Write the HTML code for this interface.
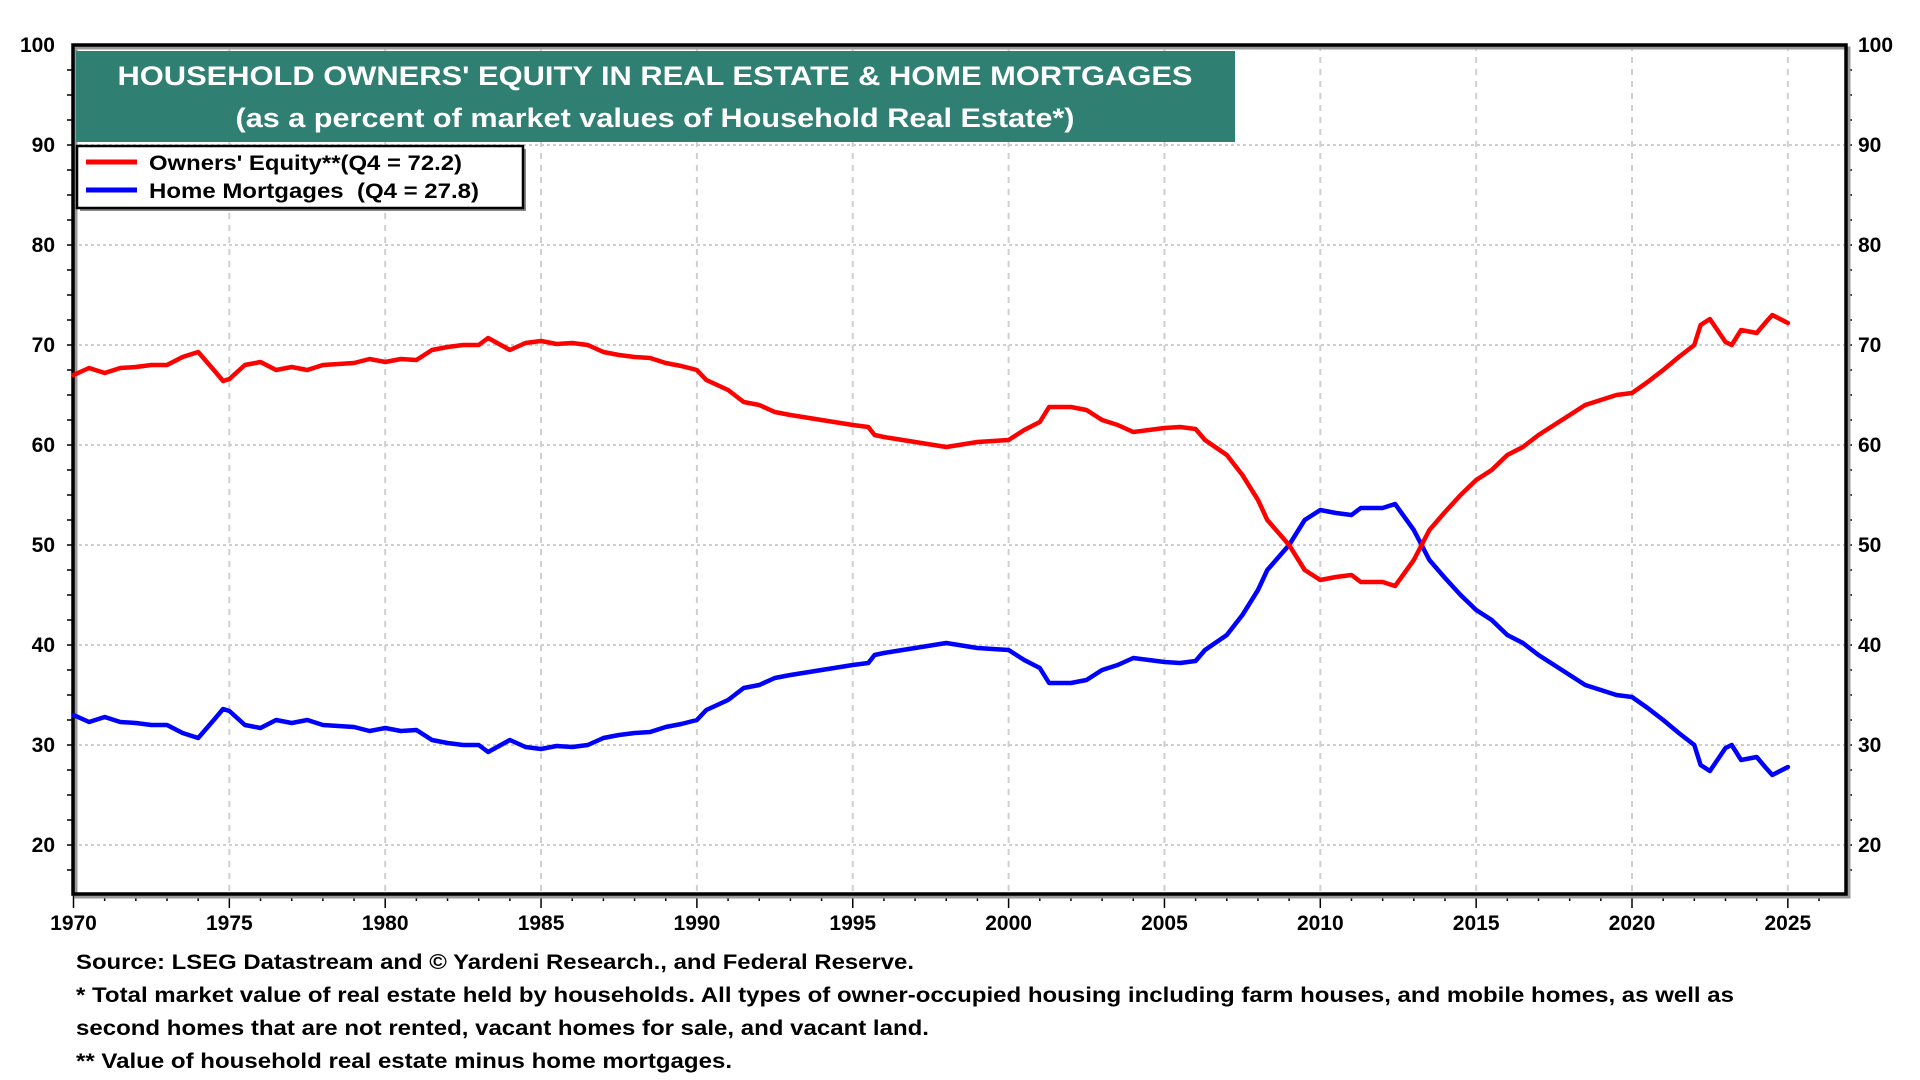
<!DOCTYPE html>
<html><head><meta charset="utf-8"><style>
html,body{margin:0;padding:0;background:#fff;}
svg{display:block;font-family:"Liberation Sans",Arial,sans-serif;font-weight:bold;}
</style></head><body>
<svg id="chart" width="1920" height="1080" viewBox="0 0 1920 1080">
<g id="grid"></g>
<g id="axes"></g>
<g id="series"></g>
<rect x="76" y="51" width="1159" height="91" fill="#2f7f72"/>
<text x="655" y="85" fill="#fff" font-size="27" text-anchor="middle" textLength="1075" lengthAdjust="spacingAndGlyphs">HOUSEHOLD OWNERS' EQUITY IN REAL ESTATE &amp; HOME MORTGAGES</text>
<text x="655" y="127" fill="#fff" font-size="27" text-anchor="middle" textLength="839" lengthAdjust="spacingAndGlyphs">(as a percent of market values of Household Real Estate*)</text>
<g>
<rect x="80" y="149" width="446" height="62" fill="#888"/>
<rect x="77" y="146" width="446" height="62" fill="#fff" stroke="#000" stroke-width="2.5"/>
<line x1="86" y1="162" x2="137" y2="162" stroke="#ff0000" stroke-width="5"/>
<text x="149" y="170" font-size="21" textLength="313" lengthAdjust="spacingAndGlyphs">Owners' Equity**(Q4 = 72.2)</text>
<line x1="86" y1="190" x2="137" y2="190" stroke="#0000ff" stroke-width="5"/>
<text x="149" y="198" font-size="21" textLength="330" lengthAdjust="spacingAndGlyphs" xml:space="preserve">Home Mortgages  (Q4 = 27.8)</text>
</g>
<g font-size="21">
<text x="76" y="969" textLength="838" lengthAdjust="spacingAndGlyphs">Source: LSEG Datastream and © Yardeni Research., and Federal Reserve.</text>
<text x="76" y="1002" textLength="1658" lengthAdjust="spacingAndGlyphs">* Total market value of real estate held by households. All types of owner-occupied housing including farm houses, and mobile homes, as well as</text>
<text x="76" y="1035" textLength="853" lengthAdjust="spacingAndGlyphs">second homes that are not rented, vacant homes for sale, and vacant land.</text>
<text x="76" y="1068" textLength="656" lengthAdjust="spacingAndGlyphs">** Value of household real estate minus home mortgages.</text>
</g>
</svg>
<script>
const years = [1970,1970.5,1971,1971.5,1972,1972.5,1973,1973.5,1974,1974.5,1974.8,1975,1975.5,1976,1976.5,1977,1977.5,1978,1979,1979.5,1980,1980.5,1981,1981.5,1982,1982.5,1983,1983.3,1984,1984.5,1985,1985.5,1986,1986.5,1987,1987.5,1988,1988.5,1989,1989.5,1990,1990.3,1991,1991.5,1992,1992.5,1993,1994,1995,1995.5,1995.7,1996,1997,1998,1999,2000,2000.5,2001,2001.3,2002,2002.5,2003,2003.5,2004,2004.5,2005,2005.5,2006,2006.3,2007,2007.5,2008,2008.3,2009,2009.5,2010,2010.5,2011,2011.3,2012,2012.4,2013,2013.5,2014,2014.5,2015,2015.5,2016,2016.5,2017,2017.5,2018,2018.5,2019,2019.5,2020,2020.5,2021,2021.5,2022,2022.2,2022.5,2023,2023.2,2023.5,2024,2024.3,2024.5,2025];
const equity = [67.0,67.7,67.2,67.7,67.8,68.0,68.0,68.8,69.3,67.5,66.4,66.6,68.0,68.3,67.5,67.8,67.5,68.0,68.2,68.6,68.3,68.6,68.5,69.5,69.8,70.0,70.0,70.7,69.5,70.2,70.4,70.1,70.2,70.0,69.3,69.0,68.8,68.7,68.2,67.9,67.5,66.5,65.5,64.3,64.0,63.3,63.0,62.5,62.0,61.8,61.0,60.8,60.3,59.8,60.3,60.5,61.5,62.3,63.8,63.8,63.5,62.5,62.0,61.3,61.5,61.7,61.8,61.6,60.5,59.0,57.0,54.5,52.5,50.0,47.5,46.5,46.8,47.0,46.3,46.3,45.9,48.5,51.5,53.3,55.0,56.5,57.5,59.0,59.8,61.0,62.0,63.0,64.0,64.5,65.0,65.2,66.3,67.5,68.8,70.0,72.0,72.6,70.3,70.0,71.5,71.2,72.3,73.0,72.2];
const mortgages = [33.0,32.3,32.8,32.3,32.2,32.0,32.0,31.2,30.7,32.5,33.6,33.4,32.0,31.7,32.5,32.2,32.5,32.0,31.8,31.4,31.7,31.4,31.5,30.5,30.2,30.0,30.0,29.3,30.5,29.8,29.6,29.9,29.8,30.0,30.7,31.0,31.2,31.3,31.8,32.1,32.5,33.5,34.5,35.7,36.0,36.7,37.0,37.5,38.0,38.2,39.0,39.2,39.7,40.2,39.7,39.5,38.5,37.7,36.2,36.2,36.5,37.5,38.0,38.7,38.5,38.3,38.2,38.4,39.5,41.0,43.0,45.5,47.5,50.0,52.5,53.5,53.2,53.0,53.7,53.7,54.1,51.5,48.5,46.7,45.0,43.5,42.5,41.0,40.2,39.0,38.0,37.0,36.0,35.5,35.0,34.8,33.7,32.5,31.2,30.0,28.0,27.4,29.7,30.0,28.5,28.8,27.7,27.0,27.8];
const yTicks = [20,30,40,50,60,70,80,90,100];
const xTicks = [1970,1975,1980,1985,1990,1995,2000,2005,2010,2015,2020,2025];

const NS = "http://www.w3.org/2000/svg";
const L = 73, R = 1846, T = 45, B = 894;
function xs(yr){ return 73.5 + (yr - 1970) * 31.17; }
function ys(v){ return 45 + (100 - v) * 10; }
function mk(tag, attrs, parent){ const e = document.createElementNS(NS, tag); for (const k in attrs) e.setAttribute(k, attrs[k]); parent.appendChild(e); return e; }
const grid = document.getElementById('grid'), axes = document.getElementById('axes'), series = document.getElementById('series');

yTicks.forEach(v => {
  const y = ys(v);
  if (v < 100) {
    const g = mk('line', {x1:L, x2:R, y1:y, y2:y, stroke:'#cfcfcf', 'stroke-width':2, 'stroke-dasharray':'3,3'}, grid);
    
    
  }
  const tl = mk('text', {x:55, y:y+7, 'font-size':21, 'text-anchor':'end'}, axes);
  tl.textContent = v;
  
  
  const tr = mk('text', {x:1858, y:y+7, 'font-size':21, 'text-anchor':'start'}, axes);
  tr.textContent = v;
  
  
});
for (let v = 17.5; v < 100; v += 2.5) {
  const y = ys(v);
  const t1 = mk('line', {x1:L-6, x2:L, y1:y, y2:y, stroke:'#000', 'stroke-width':1.5}, axes);
  
  
  const t2 = mk('line', {x1:R, x2:R+6, y1:y, y2:y, stroke:'#000', 'stroke-width':1.5}, axes);
  
  
}
xTicks.forEach(yr => {
  const x = xs(yr);
  const g = mk('line', {x1:x, x2:x, y1:T, y2:B, stroke:'#cfcfcf', 'stroke-width':2, 'stroke-dasharray':'6,6'}, grid);
  
  
  const t = mk('text', {x:x, y:930, 'font-size':21, 'text-anchor':'middle'}, axes);
  t.textContent = yr;
  
  
});
for (let yr = 1970; yr <= 2026; yr++) {
  const x = xs(yr);
  const len = yr % 5 === 0 ? 14 : 7;
  const t = mk('line', {x1:x, x2:x, y1:B, y2:B+len, stroke:'#000', 'stroke-width':1.5}, axes);
  
  
}
const sh = mk('rect', {x:L+3, y:T+3, width:R-L, height:B-T, fill:'none', stroke:'#999', 'stroke-width':3}, axes);


const fr = mk('rect', {x:L, y:T, width:R-L, height:B-T, fill:'none', stroke:'#000', 'stroke-width':3.5}, axes);



function line(vals, color, name){
  const d = vals.map((v,i) => (i ? 'L' : 'M') + xs(years[i]).toFixed(1) + ',' + ys(v).toFixed(1)).join(' ');
  const p = mk('path', {d:d, fill:'none', stroke:color, 'stroke-width':4.5, 'stroke-linejoin':'round', 'stroke-linecap':'round'}, series);
  
  
}
line(mortgages, '#0000ff', 'home-mortgages-line');
line(equity, '#ff0000', 'owners-equity-line');
</script>
</body></html>
